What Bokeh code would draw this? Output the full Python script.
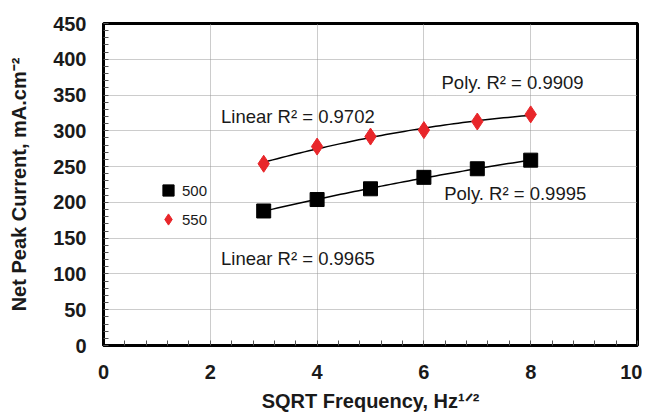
import numpy as np
from bokeh.plotting import figure
from bokeh.models import (Label, Legend, LegendItem, SingleIntervalTicker, Range1d)
from bokeh.embed import file_html
from bokeh.resources import INLINE

# data
sqrt_freq = [3, 4, 5, 6, 7, 8]
current_500 = [188, 204, 219, 235, 247, 259]
current_550 = [254, 278, 292, 301, 313, 323]
series_names = ["500", "550"]
annotations = ["Linear R\u00b2 = 0.9702", "Poly. R\u00b2 = 0.9909",
               "Poly. R\u00b2 = 0.9995", "Linear R\u00b2 = 0.9965"]

p = figure(width=642, height=414, output_backend="svg", toolbar_location=None,
           x_range=Range1d(0, 10), y_range=Range1d(0, 450),
           min_border_left=103, min_border_right=5, min_border_top=23, min_border_bottom=60)

p.outline_line_color = "black"
p.outline_line_width = 3
p.outline_line_alpha = 1

for ax in (p.xaxis[0], p.yaxis[0]):
    ax.axis_line_width = 3
    ax.axis_line_color = "black"
    ax.major_tick_in = 0
    ax.major_tick_out = 0
    ax.minor_tick_in = 5
    ax.minor_tick_out = 0
    ax.minor_tick_line_color = "#555555"
    ax.major_label_text_font = "Liberation Sans"
    ax.major_label_text_font_style = "bold"
    ax.major_label_text_font_size = "20px"
    ax.major_label_text_color = "#1a1a1a"
    ax.axis_label_text_font = "Liberation Sans"
    ax.axis_label_text_font_style = "bold"
    ax.axis_label_text_font_size = "20px"
    ax.axis_label_text_color = "#1a1a1a"

p.xaxis[0].ticker = SingleIntervalTicker(interval=2, num_minor_ticks=5)
p.yaxis[0].ticker = SingleIntervalTicker(interval=50, num_minor_ticks=5)
p.xaxis[0].major_label_standoff = 19
p.yaxis[0].major_label_standoff = 17
p.xaxis[0].axis_label = "SQRT Frequency, Hz\u00b9\u141f\u00b2"
p.yaxis[0].axis_label = "Net Peak Current, mA.cm\u207b\u00b2"
p.xaxis[0].axis_label_standoff = 8
p.yaxis[0].axis_label_standoff = 20

for g in (p.xgrid[0], p.ygrid[0]):
    g.grid_line_color = "#999999"
    g.grid_line_dash = "1 1"
    g.grid_line_width = 1

# trend curves (quadratic fits of the data)
xs = np.linspace(min(sqrt_freq), max(sqrt_freq), 60)
for ys in (current_500, current_550):
    c = np.polyfit(sqrt_freq, ys, 2)
    p.line(xs, np.polyval(c, xs), line_color="black", line_width=1.5)

r500 = p.scatter(sqrt_freq, current_500, marker="square", size=14,
                 fill_color="black", line_color="black")
r550 = p.scatter(sqrt_freq, current_550, marker="diamond", size=17,
                 fill_color="#e8262a", line_color="#e8262a")

legend = Legend(items=[LegendItem(label=series_names[0], renderers=[r500]),
                       LegendItem(label=series_names[1], renderers=[r550])],
                location=(51, 112), glyph_width=28, glyph_height=28,
                label_standoff=0, spacing=1, padding=0, margin=0,
                border_line_color=None, background_fill_alpha=0,
                label_text_font="Liberation Sans", label_text_font_size="15px",
                label_text_color="#1a1a1a")
p.add_layout(legend)

ann_pos = [(2.2, 320), (6.33, 367), (6.38, 213), (2.2, 121)]
for txt, (ax_, ay_) in zip(annotations, ann_pos):
    p.add_layout(Label(x=ax_, y=ay_, text=txt, text_baseline="middle",
                       text_font="Liberation Sans", text_font_size="18.5px",
                       text_color="#1a1a1a"))

open("out.html", "w").write(file_html(p, INLINE))
